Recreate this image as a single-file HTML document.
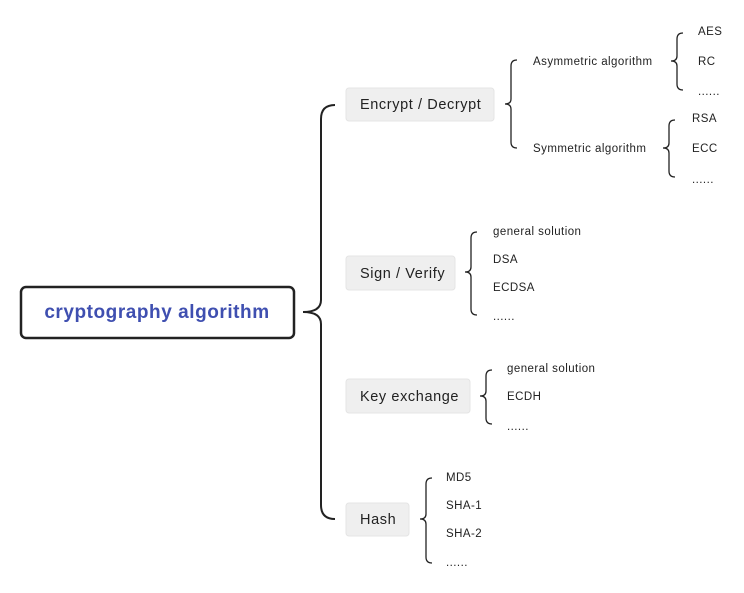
<!DOCTYPE html>
<html><head><style>
html,body{margin:0;padding:0;background:#fff;}
svg{display:block;}
text{font-family:"Liberation Sans",sans-serif;fill:#222;}
.s{font-size:11.5px;letter-spacing:0.45px;}
.t{font-size:14.5px;letter-spacing:0.6px;}
</style></head><body>
<svg width="744" height="593" viewBox="0 0 744 593" xmlns="http://www.w3.org/2000/svg">
<g fill="none" stroke="#222" stroke-width="2">
<path d="M335,105 Q321,105 321,119 L321,300 Q321,312 303,312 Q321,312 321,324 L321,505 Q321,519 335,519"/>
</g>
<g fill="none" stroke="#222" stroke-width="1.3">
<path d="M517,60 Q511,60 511,66 L511,99 Q511,104 505,104 Q511,104 511,109 L511,142 Q511,148 517,148"/>
<path d="M683,33 Q677,33 677,39 L677,56 Q677,61 671,61 Q677,61 677,66 L677,84 Q677,90 683,90"/>
<path d="M675,120 Q669,120 669,126 L669,143 Q669,148 663,148 Q669,148 669,153 L669,171 Q669,177 675,177"/>
<path d="M477,232 Q471,232 471,238 L471,267 Q471,272 465,272 Q471,272 471,277 L471,309 Q471,315 477,315"/>
<path d="M492,370 Q486,370 486,376 L486,391 Q486,396 480,396 Q486,396 486,401 L486,418 Q486,424 492,424"/>
<path d="M432,478 Q426,478 426,484 L426,514 Q426,519 420,519 Q426,519 426,524 L426,557 Q426,563 432,563"/>
</g>
<rect x="21" y="287" width="273" height="51" rx="5" fill="#fff" stroke="#222" stroke-width="2.5"/>
<text x="157" y="318" text-anchor="middle" style="font-size:19px;letter-spacing:0.55px;font-weight:bold;fill:#3f4fb0">cryptography algorithm</text>
<g fill="#efefef" stroke="#e4e4e4" stroke-width="1">
<rect x="346" y="88" width="148" height="33" rx="3"/>
<rect x="346" y="256" width="109" height="34" rx="3"/>
<rect x="346" y="379" width="124" height="34" rx="3"/>
<rect x="346" y="503" width="63" height="33" rx="3"/>
</g>
<text class="t" x="360" y="109">Encrypt / Decrypt</text>
<text class="t" x="360" y="278">Sign / Verify</text>
<text class="t" x="360" y="401">Key exchange</text>
<text class="t" x="360" y="524">Hash</text>
<text class="s" x="533" y="65">Asymmetric algorithm</text>
<text class="s" x="533" y="152">Symmetric algorithm</text>
<text class="s" x="698" y="35">AES</text>
<text class="s" x="698" y="65">RC</text>
<text class="s" x="698" y="95">......</text>
<text class="s" x="692" y="122">RSA</text>
<text class="s" x="692" y="152">ECC</text>
<text class="s" x="692" y="183">......</text>
<text class="s" x="493" y="235">general solution</text>
<text class="s" x="493" y="263">DSA</text>
<text class="s" x="493" y="291">ECDSA</text>
<text class="s" x="493" y="320">......</text>
<text class="s" x="507" y="372">general solution</text>
<text class="s" x="507" y="400">ECDH</text>
<text class="s" x="507" y="430">......</text>
<text class="s" x="446" y="481">MD5</text>
<text class="s" x="446" y="509">SHA-1</text>
<text class="s" x="446" y="537">SHA-2</text>
<text class="s" x="446" y="566">......</text>
</svg>
</body></html>
